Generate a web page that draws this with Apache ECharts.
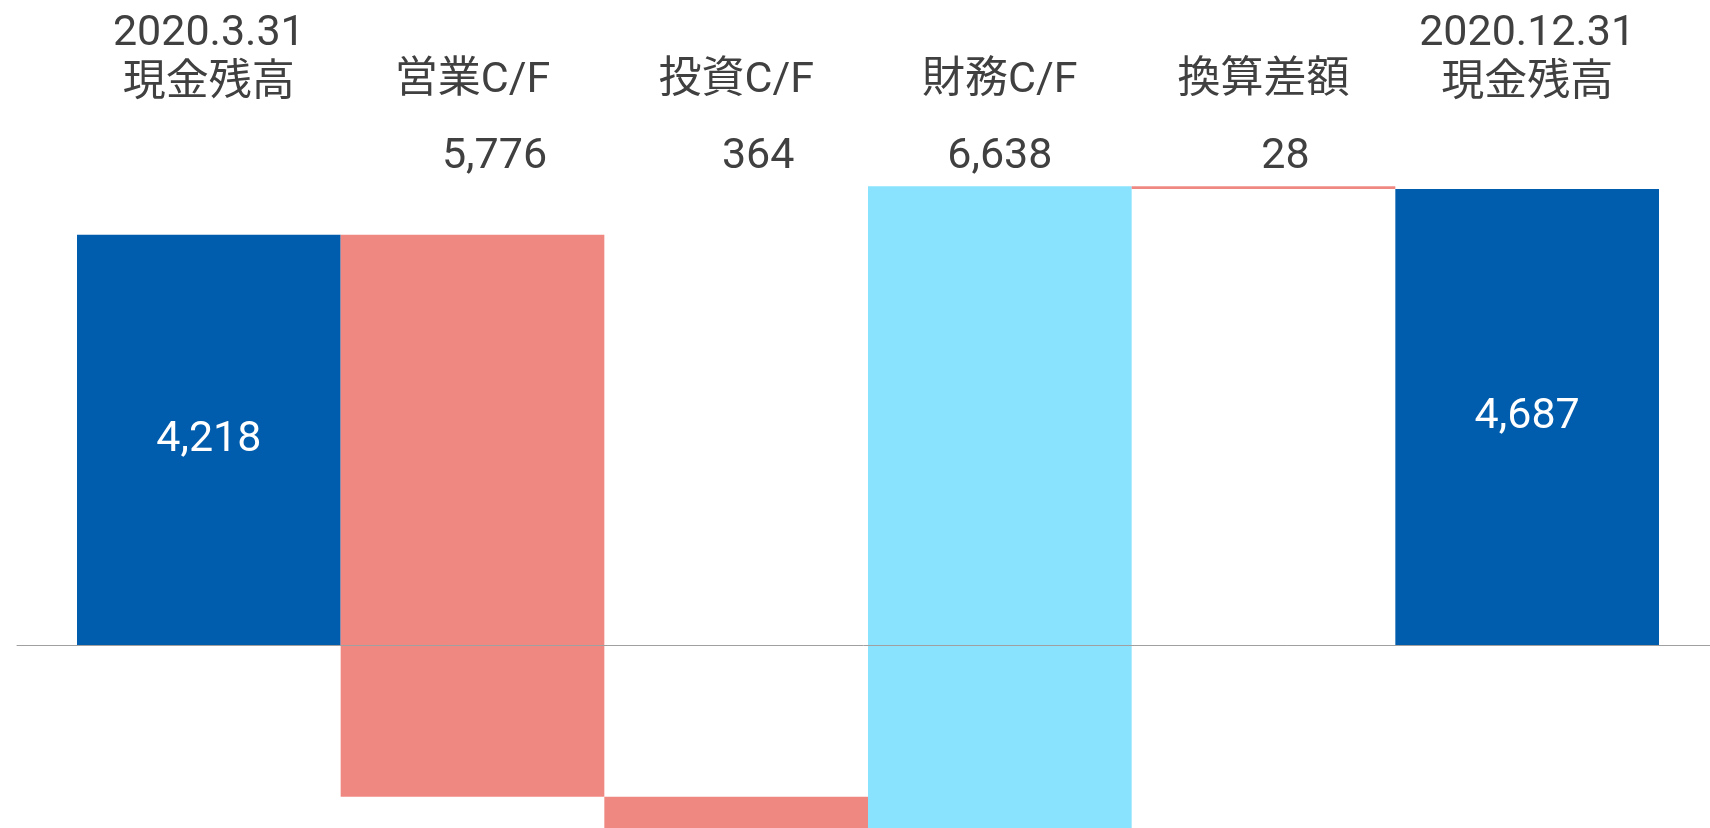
<!DOCTYPE html>
<html>
<head>
<meta charset="utf-8">
<script src="https://cdn.jsdelivr.net/npm/echarts@6/dist/echarts.min.js"></script>
<style>
  html, body { margin: 0; padding: 0; background: #fff; }
  #main { width: 1710px; height: 828px; }
</style>
</head>
<body>
<div id="main"></div>
<script>
const categories = ['2020.3.31\n現金残高', '営業C/F', '投資C/F', '財務C/F', '換算差額', '2020.12.31\n現金残高']
const openingBalance = 4218
const flowChanges = [-5776, -364, 6638, -28]
const closingBalance = 4687

const BLUE = '#005cac'
const PINK = '#f08882'
const CYAN = '#8ae3fe'
const TEXT = '#404040'
const fontFamily = 'Roboto, "Noto Sans CJK JP", sans-serif'
const FS = 43

const fmt = (v) => Math.abs(v).toLocaleString('en-US')

// waterfall pieces: transparent base + visible positive/negative parts
const baseData = ['-']
const upData = [{ value: openingBalance, itemStyle: { color: BLUE }, label: { show: true } }]
const downData = ['-']
let running = openingBalance
flowChanges.forEach((d) => {
  const prev = running
  running = prev + d
  const lo = Math.min(prev, running)
  const hi = Math.max(prev, running)
  const color = d < 0 ? PINK : CYAN
  if (lo >= 0) {
    baseData.push(lo)
    upData.push({ value: hi - lo, itemStyle: { color } })
    downData.push('-')
  } else if (hi <= 0) {
    baseData.push(hi)
    upData.push('-')
    downData.push({ value: lo - hi, itemStyle: { color } })
  } else {
    baseData.push('-')
    upData.push({ value: hi, itemStyle: { color } })
    downData.push({ value: lo, itemStyle: { color } })
  }
})
baseData.push('-')
upData.push({ value: closingBalance, itemStyle: { color: BLUE }, label: { show: true } })
downData.push('-')

const flowLabels = ['', ...flowChanges.map(fmt), '']

const chart = echarts.init(document.getElementById('main'))

const options = {
  animation: false,
  grid: [
    { left: 77, right: 51, top: 178, bottom: 0 },
    { left: 17, right: 0, top: 178, bottom: 0 }
  ],
  xAxis: [
    {
      type: 'category',
      gridIndex: 0,
      position: 'top',
      data: categories,
      axisLine: { show: false, onZero: false },
      axisTick: { show: false },
      axisLabel: {
        interval: 0,
        margin: 69,
        fontSize: FS,
        lineHeight: 50,
        color: TEXT,
        fontFamily: fontFamily,
        formatter: (v) => (v.indexOf('\n') >= 0 ? v : '{s|' + v + '}'),
        rich: {
          s: { fontSize: FS, lineHeight: 50, color: TEXT, fontFamily: fontFamily, padding: [0, 0, 5, 0] }
        }
      }
    },
    {
      type: 'category',
      gridIndex: 0,
      position: 'top',
      data: flowLabels,
      axisLine: { show: false, onZero: false },
      axisTick: { show: false },
      axisLabel: {
        interval: 0,
        margin: 0,
        fontSize: FS,
        lineHeight: 41,
        color: TEXT,
        fontFamily: fontFamily,
        formatter: (v, i) => (i > 0 && flowChanges[i - 1] < 0 ? '{neg|' + v + '}' : v),
        rich: {
          neg: { fontSize: FS, lineHeight: 41, color: TEXT, fontFamily: fontFamily, padding: [0, 0, 0, 44] }
        }
      }
    },
    {
      type: 'category',
      gridIndex: 1,
      data: [''],
      z: 10,
      axisLine: { show: true, onZero: true, lineStyle: { color: '#a0a0a0', width: 1 } },
      axisTick: { show: false },
      axisLabel: { show: false }
    }
  ],
  yAxis: [
    { type: 'value', gridIndex: 0, min: -1880, max: 4800, show: false },
    { type: 'value', gridIndex: 1, min: -1880, max: 4800, show: false }
  ],
  series: [
    {
      name: 'base',
      type: 'bar',
      stack: 'cf',
      barCategoryGap: '0%',
      itemStyle: { color: 'transparent' },
      data: baseData
    },
    {
      name: 'up',
      type: 'bar',
      stack: 'cf',
      barCategoryGap: '0%',
      label: {
        show: false,
        position: 'inside',
        color: '#fff',
        fontSize: FS,
        fontFamily: fontFamily,
        formatter: (p) => fmt(p.value)
      },
      data: upData
    },
    {
      name: 'down',
      type: 'bar',
      stack: 'cf',
      barCategoryGap: '0%',
      data: downData
    }
  ]
}

chart.setOption(options)
window.addEventListener('resize', function () {
  chart.resize()
})
</script>
</body>
</html>
